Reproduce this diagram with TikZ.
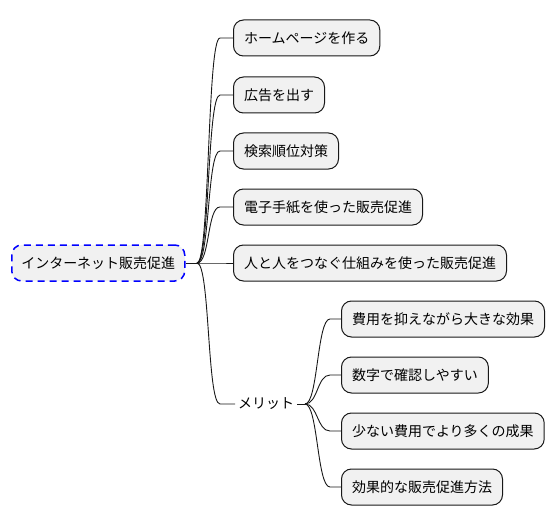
\documentclass[tikz,border=0pt]{standalone}
\usepackage{fontspec}
\setmainfont{Noto Sans CJK JP}
\usetikzlibrary{calc}
\definecolor{boxgray}{HTML}{F1F1F1}
\definecolor{edge}{HTML}{181818}
\begin{document}
\begin{tikzpicture}[x=1pt,y=-1pt,
  txt/.style={font=\fontsize{14pt}{16pt}\selectfont, text=black},
  box/.style={txt, draw=edge, fill=boxgray, rounded corners=10pt, minimum height=36pt,
    inner xsep=10.5pt, inner ysep=0pt, anchor=west, line width=1pt},
  rootbox/.style={box, draw=blue, dash pattern=on 7pt off 5pt, line width=1.5pt, inner xsep=9.5pt},
  conn/.style={draw=edge, line width=0.9pt}]
\useasboundingbox (0,0) rectangle (555,527);

\node[rootbox] (root) at (11,263) {インターネット販売促進};

\node[box] (c1) at (233,38)  {ホームページを作る};
\node[box] (c2) at (233,95)  {広告を出す};
\node[box] (c3) at (233,151) {検索順位対策};
\node[box] (c4) at (233,207) {電子手紙を使った販売促進};
\node[box] (c5) at (233,263) {人と人をつなぐ仕組みを使った販売促進};
\node[txt, anchor=west, inner xsep=3pt, inner ysep=2pt] (m) at (235,404) {メリット};

\node[box] (g1) at (341,319) {費用を抑えながら大きな効果};
\node[box] (g2) at (341,375) {数字で確認しやすい};
\node[box] (g3) at (341,431) {少ない費用でより多くの成果};
\node[box] (g4) at (341,487) {効果的な販売促進方法};

\coordinate (rf) at (197,263);
\draw[conn] (root.east) -- (rf);
\foreach \c in {c1,c2,c3,c4,c5} {
  \draw[conn] (rf) .. controls +(13,0) and +(-13,0) .. ($(\c.west)+(-13,0)$) -- (\c.west);
}
\draw[conn] (rf) .. controls +(13,0) and +(-13,0) .. (220,404) -- (m.west);

\coordinate (mf) at (305,404);
\draw[conn] (m.east) -- (mf);
\foreach \g in {g1,g2,g3,g4} {
  \draw[conn] (mf) .. controls +(13,0) and +(-13,0) .. ($(\g.west)+(-11,0)$) -- (\g.west);
}
\end{tikzpicture}
\end{document}
